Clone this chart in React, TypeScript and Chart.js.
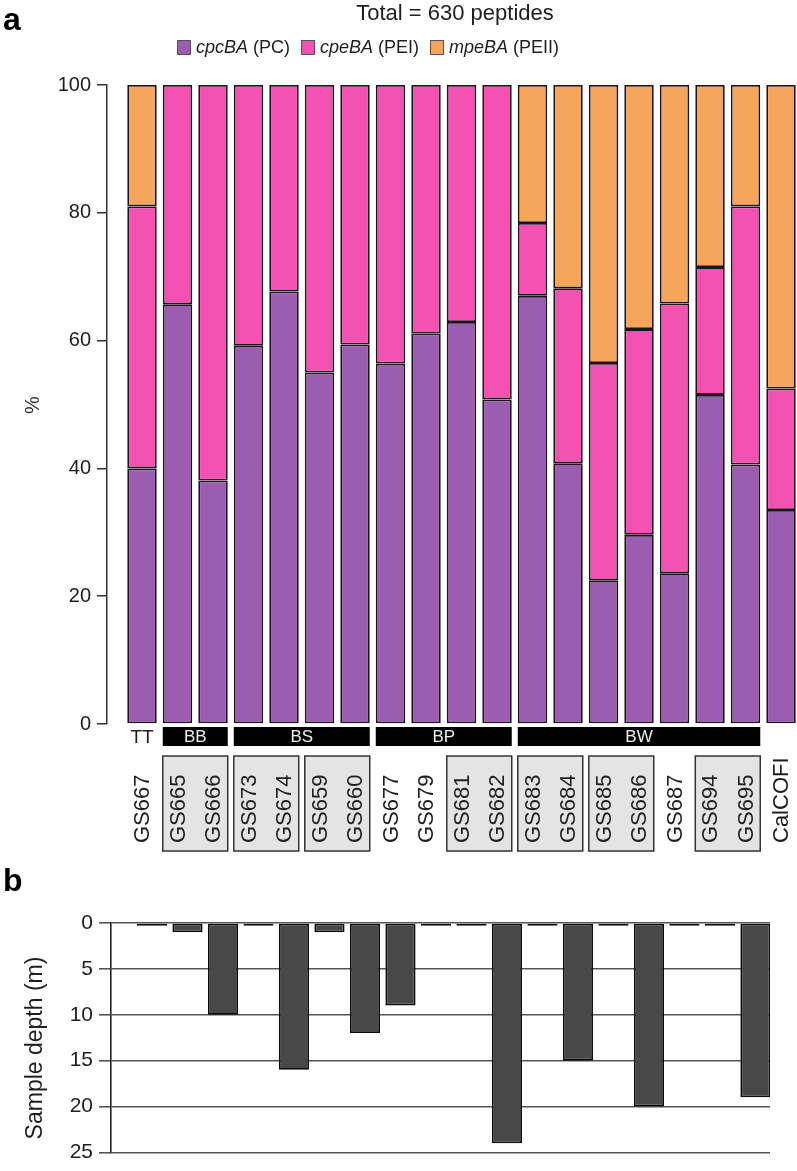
import React, { useEffect, useRef } from "react";
import { Chart, registerables } from "chart.js";

Chart.register(...registerables);

// ---------- data ----------
const samples = ["GS667", "GS665", "GS666", "GS673", "GS674", "GS659", "GS660", "GS677", "GS679", "GS681", "GS682", "GS683", "GS684", "GS685", "GS686", "GS687", "GS694", "GS695", "CalCOFI"];
const cpcBA = [40.0, 65.7, 38.1, 59.2, 67.7, 55.0, 59.4, 56.4, 61.1, 62.9, 50.8, 67.0, 40.8, 22.5, 29.6, 23.6, 51.5, 40.6, 33.5];
const cpeBA = [41.0, 34.3, 61.9, 40.8, 32.3, 45.0, 40.6, 43.6, 38.9, 37.1, 49.2, 11.4, 27.4, 34.0, 32.2, 42.2, 20.0, 40.4, 19.0];
const mpeBA = [19.0, 0, 0, 0, 0, 0, 0, 0, 0, 0, 0, 21.6, 31.8, 43.5, 38.2, 34.2, 28.5, 19.0, 47.5];
const seriesGenes = ["cpcBA", "cpeBA", "mpeBA"];
const seriesTags = [" (PC)", " (PEI)", " (PEII)"];
const titleText = "Total = 630 peptides";
const pctTicks = [0, 20, 40, 60, 80, 100];

const groupLabels = ["TT", "BB", "BS", "BP", "BW"];
const groupStart = [0, 1, 3, 7, 11];
const groupEnd = [0, 2, 6, 10, 17];
const boxedPairStart = [1, 3, 5, 9, 11, 13, 16];

const depthSamples = ["GS667", "GS665", "GS666", "GS673", "GS674", "GS659", "GS660", "GS677", "GS679", "GS681", "GS682", "GS683", "GS684", "GS685", "GS686", "GS687", "GS694", "GS695"];
const depthM = [0.3, 1, 10, 0.3, 16, 1, 12, 9, 0.3, 0.3, 24, 0.3, 15, 0.3, 20, 0.3, 0.3, 19];
const depthTicks = [0, 5, 10, 15, 20, 25];

// ---------- styles ----------
const FONT = '"Liberation Sans", Arial, Helvetica, sans-serif';
const COLORS = ["#9c5db1", "#f352b2", "#f6a65c"];
const EDGE = "#1c141c";
const TXT = "#1e1e1e";
const W = 797;
const HA = 860;
const HB = 311;

const panelAPlugin = {
  id: "panelA",
  afterDraw(chart: any) {
    const ctx = chart.ctx as CanvasRenderingContext2D;
    const meta = chart.getDatasetMeta(0);
    ctx.save();
    ctx.fillStyle = "#000";
    ctx.font = `bold 32px ${FONT}`;
    ctx.textAlign = "left";
    ctx.textBaseline = "middle";
    ctx.fillText("a", 3, 21);

    ctx.fillStyle = TXT;
    ctx.font = `22px ${FONT}`;
    ctx.textAlign = "center";
    ctx.fillText(titleText, 455, 14);

    // legend
    let lx = 177;
    const ly = 47;
    const fs = 18;
    seriesGenes.forEach((g, k) => {
      ctx.fillStyle = COLORS[k];
      ctx.fillRect(lx, ly - 7, 14, 15);
      ctx.strokeStyle = "#555";
      ctx.lineWidth = 1;
      ctx.strokeRect(lx + 0.5, ly - 6.5, 13, 14);
      lx += 19;
      ctx.fillStyle = TXT;
      ctx.textAlign = "left";
      ctx.font = `italic ${fs}px ${FONT}`;
      ctx.fillText(g, lx, ly + 1);
      lx += ctx.measureText(g).width;
      ctx.font = `${fs}px ${FONT}`;
      ctx.fillText(seriesTags[k], lx, ly + 1);
      lx += ctx.measureText(seriesTags[k]).width + 11;
    });

    // y title
    ctx.save();
    ctx.translate(33, 405);
    ctx.rotate(-Math.PI / 2);
    ctx.textAlign = "center";
    ctx.font = `20px ${FONT}`;
    ctx.fillStyle = "#333";
    ctx.fillText("%", 0, 0);
    ctx.restore();

    const barLeft = (i: number) => meta.data[i].x - meta.data[i].width / 2;
    const barRight = (i: number) => meta.data[i].x + meta.data[i].width / 2;

    // group bars
    groupLabels.forEach((lab, g) => {
      const a = groupStart[g];
      const b = groupEnd[g];
      const l = barLeft(a);
      const r = barRight(b);
      if (lab === "TT") {
        ctx.fillStyle = TXT;
        ctx.font = `19px ${FONT}`;
        ctx.textAlign = "center";
        ctx.fillText(lab, (l + r) / 2, 738);
      } else {
        ctx.fillStyle = "#000";
        ctx.fillRect(l, 727, r - l, 19);
        ctx.fillStyle = "#eeeeee";
        ctx.font = `17px ${FONT}`;
        ctx.textAlign = "center";
        ctx.fillText(lab, (l + r) / 2, 737);
      }
    });

    // grey boxes
    boxedPairStart.forEach((s) => {
      const l = barLeft(s);
      const r = barRight(s + 1);
      ctx.fillStyle = "#e4e4e4";
      ctx.fillRect(l, 756, r - l, 95);
      ctx.strokeStyle = "#333";
      ctx.lineWidth = 1.5;
      ctx.strokeRect(l, 756, r - l, 95);
    });

    // sample labels
    samples.forEach((s, i) => {
      ctx.save();
      ctx.translate(meta.data[i].x, 843);
      ctx.rotate(-Math.PI / 2);
      ctx.textAlign = "left";
      ctx.textBaseline = "middle";
      ctx.fillStyle = TXT;
      ctx.font = `22px ${FONT}`;
      ctx.fillText(s, 0, 1);
      ctx.restore();
    });
    ctx.restore();
  },
};

const panelBPlugin = {
  id: "panelB",
  afterDraw(chart: any) {
    const ctx = chart.ctx as CanvasRenderingContext2D;
    ctx.save();
    ctx.fillStyle = "#000";
    ctx.font = `bold 32px ${FONT}`;
    ctx.textAlign = "left";
    ctx.textBaseline = "middle";
    ctx.fillText("b", 3, 22);
    ctx.translate(36, 188);
    ctx.rotate(-Math.PI / 2);
    ctx.textAlign = "center";
    ctx.fillStyle = TXT;
    ctx.font = `23px ${FONT}`;
    ctx.fillText("Sample depth (m)", 0, 0);
    ctx.restore();
  },
};

export default function App() {
  const refA = useRef<HTMLCanvasElement>(null);
  const refB = useRef<HTMLCanvasElement>(null);

  useEffect(() => {
    document.body.style.margin = "0";
    const chartA = new Chart(refA.current!, {
      type: "bar",
      data: {
        datasets: [cpcBA, cpeBA, mpeBA].map((arr, k) => ({
          label: seriesGenes[k] + seriesTags[k],
          data: arr.map((v, i) => ({ x: i, y: v })),
          backgroundColor: COLORS[k],
          borderColor: EDGE,
          borderWidth: 1.8,
          borderSkipped: false,
          barPercentage: 0.83,
          categoryPercentage: 1,
        })),
      },
      options: {
        animation: false,
        responsive: false,
        maintainAspectRatio: false,
        layout: { padding: { top: 85, bottom: HA - 724, left: 0, right: 0 } },
        plugins: { legend: { display: false }, tooltip: { enabled: false }, title: { display: false } },
        scales: {
          x: { type: "linear", stacked: true, display: false, offset: false, min: -0.986, max: 18.45 },
          y: {
            stacked: true,
            min: 0,
            max: 100,
            afterBuildTicks: (s: any) => { s.ticks = pctTicks.map((v) => ({ value: v })); },
            afterFit: (s: any) => { s.width = 107; },
            ticks: { font: { family: FONT, size: 20 }, color: TXT, padding: 6 },
            grid: { display: true, drawOnChartArea: false, drawTicks: true, tickLength: 10, color: "#333", lineWidth: 1.5 },
            border: { display: true, color: "#333", width: 1.5 },
          },
        },
      } as any,
      plugins: [panelAPlugin],
    });

    const chartB = new Chart(refB.current!, {
      type: "bar",
      data: {
        labels: depthSamples,
        datasets: [
          {
            label: "Sample depth (m)",
            data: depthM.map((v, i) => ({ x: i, y: v })),
            backgroundColor: "#484848",
            borderColor: "#0c0c0c",
            borderWidth: 1.8,
            borderSkipped: false,
            barPercentage: 0.85,
            categoryPercentage: 1,
          },
        ],
      },
      options: {
        animation: false,
        responsive: false,
        maintainAspectRatio: false,
        layout: { padding: { top: 63, bottom: HB - 300, left: 0, right: W - 770 } },
        plugins: { legend: { display: false }, tooltip: { enabled: false } },
        scales: {
          x: { type: "linear", display: false, offset: false, min: -1.155, max: 17.41 },
          y: {
            reverse: true,
            min: 0,
            max: 25,
            afterBuildTicks: (s: any) => { s.ticks = depthTicks.map((v) => ({ value: v })); },
            afterFit: (s: any) => { s.width = 111; },
            ticks: { font: { family: FONT, size: 21 }, color: TXT, padding: 6 },
            grid: { display: true, drawOnChartArea: true, drawTicks: true, tickLength: 12, color: "#555", lineWidth: 1.6 },
            border: { display: true, color: "#222", width: 1.6 },
          },
        },
      } as any,
      plugins: [panelBPlugin],
    });
    return () => {
      chartA.destroy();
      chartB.destroy();
    };
  }, []);

  return (
    <div style={{ position: "relative", width: W, height: HA + HB, background: "#fff" }}>
      <canvas ref={refA} width={W} height={HA} style={{ position: "absolute", left: 0, top: 0, width: W, height: HA }} />
      <canvas ref={refB} width={W} height={HB} style={{ position: "absolute", left: 0, top: HA, width: W, height: HB }} />
    </div>
  );
}
